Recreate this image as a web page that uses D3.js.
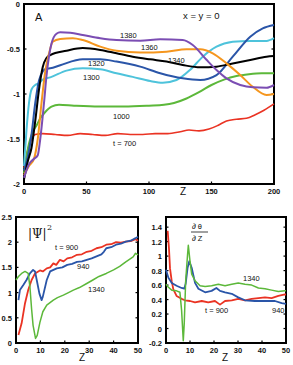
<!DOCTYPE html>
<html>
  <head>
    <meta http-equiv="content-type" content="text/html; charset=UTF-8">
    <title>phase profiles</title>
    <script type='text/javascript' src='https://d3js.org/d3.v7.min.js'></script>
    <style type='text/css'>
      body { margin: 0; background-color: white; }
      svg text { font-family: "Liberation Sans", Arial, sans-serif; fill: #111; }
      .tick { font-size: 7.5px; font-weight: bold; }
      .lab { font-size: 8px; }
    </style>
  </head>
  <body>
    <script type='text/javascript'>
    // panel A : phase at x = y = 0 vs z, one curve per time
    var aTicksX = [0, 50, 100, 150, 200];
    var aTicksY = [0, -0.5, -1, -1.5, -2];
    var aT700 = [[0,-1.82],[3,-1.62],[6,-1.5],[9,-1.45],[15,-1.44],[25,-1.45],[35,-1.46],[45,-1.44],[55,-1.45],[65,-1.46],[75,-1.44],[85,-1.45],[95,-1.45],[105,-1.44],[115,-1.44],[125,-1.42],[132,-1.40],[140,-1.41],[148,-1.39],[155,-1.35],[162,-1.30],[170,-1.28],[178,-1.27],[185,-1.23],[192,-1.18],[200,-1.11]];
    var aT1000 = [[0,-1.88],[2,-1.7],[4,-1.55],[7,-1.42],[10,-1.35],[13,-1.27],[17,-1.2],[22,-1.14],[28,-1.12],[40,-1.13],[60,-1.14],[80,-1.14],[100,-1.13],[112,-1.12],[120,-1.1],[130,-1.05],[140,-0.98],[150,-0.9],[160,-0.84],[170,-0.8],[180,-0.78],[190,-0.77],[200,-0.77]];
    var aT1300 = [[0,-1.8],[2,-1.4],[4,-1.1],[6,-0.95],[9,-0.9],[12,-0.88],[15,-0.84],[21,-0.815],[34,-0.74],[47,-0.715],[61,-0.726],[74,-0.77],[87,-0.81],[101,-0.856],[111,-0.874],[122,-0.844],[133,-0.73],[143,-0.585],[154,-0.474],[167,-0.42],[181,-0.41],[194,-0.41],[200,-0.38]];
    var aT1320 = [[0,-1.85],[3,-1.7],[6,-1.45],[9,-1.1],[12,-0.85],[15,-0.75],[18,-0.72],[21,-0.715],[29,-0.68],[47,-0.615],[61,-0.615],[74,-0.64],[93,-0.696],[109,-0.77],[127,-0.826],[141,-0.844],[154,-0.79],[167,-0.585],[181,-0.363],[191,-0.27],[200,-0.233]];
    var aT1340 = [[0,-1.95],[3,-1.75],[6,-1.6],[9,-1.3],[12,-0.95],[15,-0.7],[18,-0.6],[21,-0.567],[34,-0.52],[47,-0.49],[61,-0.51],[74,-0.548],[87,-0.585],[101,-0.615],[114,-0.64],[127,-0.678],[141,-0.704],[154,-0.696],[167,-0.66],[181,-0.622],[194,-0.585],[200,-0.578]];
    var aT1360 = [[0,-1.9],[4,-1.8],[8,-1.72],[11,-1.5],[14,-1.1],[17,-0.75],[20,-0.55],[23,-0.42],[29,-0.39],[39,-0.38],[47,-0.4],[61,-0.474],[74,-0.52],[93,-0.54],[114,-0.53],[130,-0.504],[141,-0.504],[151,-0.548],[162,-0.66],[173,-0.79],[183,-0.92],[194,-1.01],[200,-1.0]];
    var aT1380 = [[0,-1.93],[4,-1.78],[8,-1.72],[11,-1.68],[13,-1.5],[16,-1.1],[18,-0.8],[22,-0.44],[26,-0.33],[29,-0.315],[37,-0.32],[47,-0.344],[61,-0.38],[74,-0.4],[93,-0.407],[109,-0.393],[127,-0.4],[135,-0.455],[146,-0.62],[154,-0.733],[162,-0.826],[173,-0.9],[183,-0.926],[194,-0.93],[200,-0.9]];

    // panel |Psi|^2 vs z
    var pTicksX = [0, 10, 20, 30, 40, 50];
    var pTicksY = [0, 0.5, 1, 1.5, 2, 2.5];
    var pT900 = [[1,0.16],[2.3,0.39],[3.7,0.79],[5,1.05],[6.4,1.25],[7.8,1.38],[9.8,1.44],[11,1.42],[12.6,1.48],[14,1.5],[15.3,1.58],[16.5,1.55],[18,1.65],[19.5,1.62],[21,1.68],[23,1.7],[25,1.75],[27,1.76],[29,1.81],[31,1.83],[33,1.88],[35,1.9],[37,1.95],[39,1.96],[41,2.0],[43,1.99],[45,2.01],[47,2.02],[49,2.06],[50,2.03]];
    var pT940 = [[1,0.85],[1.6,1.05],[3,1.15],[4.3,1.25],[5.7,1.38],[7,1.45],[7.8,1.42],[8.5,1.25],[9.6,0.98],[10.5,0.85],[11,0.92],[12.6,1.25],[14,1.42],[16.7,1.48],[19,1.5],[21,1.55],[23,1.57],[25,1.61],[27,1.62],[29,1.65],[31,1.68],[33,1.72],[35,1.76],[36,1.81],[37,1.88],[39,1.9],[41,1.95],[43,1.97],[45,2.01],[47,2.03],[49,2.08],[50,2.11]];
    var pT1340 = [[0,1.25],[1,1.32],[2.3,1.38],[3.7,1.42],[5,1.38],[5.7,1.12],[6.4,0.67],[7,0.35],[8,0.09],[8.7,0.15],[9.8,0.41],[11,0.62],[12.6,0.75],[15.3,0.85],[17,0.9],[19.4,0.95],[21.5,1.0],[23.5,1.05],[26,1.1],[29,1.18],[31.5,1.25],[34,1.32],[37,1.38],[40,1.45],[42.5,1.52],[45,1.61],[48,1.71],[49,1.78],[50,1.75]];

    // panel d(theta)/dz vs z
    var dTicksX = [0, 10, 20, 30, 40, 50];
    var dTicksY = [-0.2, 0, 0.2, 0.4, 0.6, 0.8, 1, 1.2, 1.4];
    var dT900 = [[0.7,1.35],[1.25,1.1],[1.67,0.83],[2.4,0.65],[3.06,0.54],[4.4,0.45],[6.5,0.41],[7.9,0.39],[10,0.38],[12.1,0.36],[14.9,0.38],[17.6,0.36],[20.4,0.38],[22.5,0.33],[24.6,0.38],[27.4,0.39],[30.1,0.41],[32.9,0.39],[35.7,0.41],[38.5,0.42],[41.25,0.43],[44,0.42],[46.8,0.45],[49.6,0.47],[50,0.47]];
    var dT940 = [[0,0.81],[1,0.7],[2.4,0.63],[4.4,0.59],[6.5,0.56],[7.6,0.55],[8.2,0.62],[9,0.84],[9.7,0.93],[10.7,0.84],[12.1,0.63],[13.5,0.55],[16.3,0.5],[19,0.52],[21,0.56],[22.5,0.52],[24.6,0.5],[27.4,0.48],[30.1,0.43],[32.9,0.39],[37,0.38],[41.25,0.38],[45.4,0.38],[48.2,0.35],[50,0.34]];
    var dT1340 = [[0,0.61],[1,0.57],[2.4,0.53],[4.4,0.52],[5.8,0.5],[6.5,0.25],[7.2,-0.17],[7.6,0.07],[8.2,0.66],[9,1.03],[9.3,1.15],[10,0.93],[10.7,0.75],[12.1,0.66],[14.2,0.59],[16.3,0.58],[19,0.59],[21.8,0.61],[24.6,0.59],[27.4,0.61],[30.1,0.63],[32.9,0.61],[35.7,0.6],[38.5,0.56],[41.25,0.55],[44,0.53],[46.8,0.51],[49.6,0.52],[50,0.52]];

    var svg = d3.select("body").append("svg").attr("width", 293).attr("height", 365);

    function panel(box, xDom, yDom, xTicks, yTicks, fmtY) {
      var x = d3.scaleLinear().domain(xDom).range([box.l, box.r]);
      var y = d3.scaleLinear().domain(yDom).range([box.b, box.t]);
      var g = svg.append("g");
      g.append("rect").attr("x", box.l).attr("y", box.t)
        .attr("width", box.r - box.l).attr("height", box.b - box.t)
        .attr("fill", "none").attr("stroke", "#000").attr("stroke-width", 2);
      xTicks.forEach(function(v) {
        g.append("line").attr("x1", x(v)).attr("x2", x(v)).attr("y1", box.b).attr("y2", box.b - 2.5)
          .attr("stroke", "#000").attr("stroke-width", 1.2);
        g.append("text").attr("class", "tick").attr("x", x(v)).attr("y", box.b + 10)
          .attr("text-anchor", "middle").text(v);
      });
      yTicks.forEach(function(v) {
        g.append("line").attr("x1", box.l).attr("x2", box.l + 2.5).attr("y1", y(v)).attr("y2", y(v))
          .attr("stroke", "#000").attr("stroke-width", 1.2);
        g.append("line").attr("x1", box.r).attr("x2", box.r - 2.5).attr("y1", y(v)).attr("y2", y(v))
          .attr("stroke", "#000").attr("stroke-width", 1.2);
        g.append("text").attr("class", "tick").attr("x", box.l - 4).attr("y", y(v) + 3)
          .attr("text-anchor", "end").text(fmtY(v));
      });
      return {x: x, y: y, g: g};
    }

    function draw(p, data, color, w, curve) {
      var line = d3.line().x(function(d) { return p.x(d[0]); }).y(function(d) { return p.y(d[1]); }).curve(curve);
      p.g.append("path").datum(data).attr("d", line)
        .attr("fill", "none").attr("stroke", color).attr("stroke-width", w).attr("stroke-linejoin", "round");
    }

    function label(x, y, s, size, anchor) {
      svg.append("text").attr("x", x).attr("y", y).attr("font-size", size)
        .attr("text-anchor", anchor || "start").text(s);
    }

    var red = "#ea3323", green = "#5cb83a", cyan = "#4ec3db", blue = "#2a55a8",
        orange = "#f5961e", purple = "#7b4db3";

    // top panel
    var A = panel({l: 24, r: 274, t: 4, b: 184}, [0, 200], [-2, 0], aTicksX, aTicksY, function(v) { return v; });
    draw(A, aT700, red, 1.6, d3.curveMonotoneX);
    draw(A, aT1000, green, 2, d3.curveMonotoneX);
    draw(A, aT1300, cyan, 2, d3.curveMonotoneX);
    draw(A, aT1320, blue, 2, d3.curveMonotoneX);
    draw(A, aT1340, "#000", 2, d3.curveMonotoneX);
    draw(A, aT1360, orange, 2, d3.curveMonotoneX);
    draw(A, aT1380, purple, 2, d3.curveMonotoneX);
    label(35, 21, "A", "11px");
    label(183, 19, "x = y = 0", "9.5px");
    label(120, 38, "1380", "7.5px");
    label(141, 50, "1360", "7.5px");
    label(168, 63, "1340", "7.5px");
    label(88, 66, "1320", "7.5px");
    label(83, 80, "1300", "7.5px");
    label(113, 119, "1000", "7.5px");
    label(113, 146, "t = 700", "7.5px");
    label(180, 195, "Z", "10px");

    // bottom left panel
    var P = panel({l: 16, r: 138, t: 217, b: 343}, [0, 50], [0, 2.5], pTicksX, pTicksY, function(v) { return v; });
    draw(P, pT900, red, 1.8, d3.curveLinear);
    draw(P, pT940, blue, 1.8, d3.curveLinear);
    draw(P, pT1340, green, 1.5, d3.curveLinear);
    svg.append("text").attr("x", 28).attr("y", 238).attr("font-size", "12px")
      .style("font-family", "'DejaVu Serif', serif").text("|\u03A8|");
    svg.append("text").attr("x", 47).attr("y", 230).attr("font-size", "8px")
      .style("font-family", "'DejaVu Serif', serif").text("2");
    label(55, 250, "t = 900", "7.5px");
    label(77, 269, "940", "7.5px");
    label(88, 292, "1340", "7.5px");
    label(79, 361, "Z", "10px");

    // bottom right panel
    var D = panel({l: 166, r: 286, t: 217, b: 343}, [0, 50], [-0.2, 1.54], dTicksX, dTicksY, function(v) { return v; });
    draw(D, dT900, red, 1.8, d3.curveLinear);
    draw(D, dT940, blue, 1.8, d3.curveLinear);
    draw(D, dT1340, green, 1.5, d3.curveLinear);
    label(192, 229, "\u2202 \u03B8", "7.5px");
    svg.append("line").attr("x1", 191).attr("x2", 208).attr("y1", 232).attr("y2", 232)
      .attr("stroke", "#111").attr("stroke-width", 0.8);
    label(192, 241, "\u2202 Z", "7.5px");
    label(243, 281, "1340", "7.5px");
    label(205, 313, "t = 900", "7.5px");
    label(272, 313, "940", "7.5px");
    label(222, 361, "Z", "10px");
    </script>
  </body>
</html>
